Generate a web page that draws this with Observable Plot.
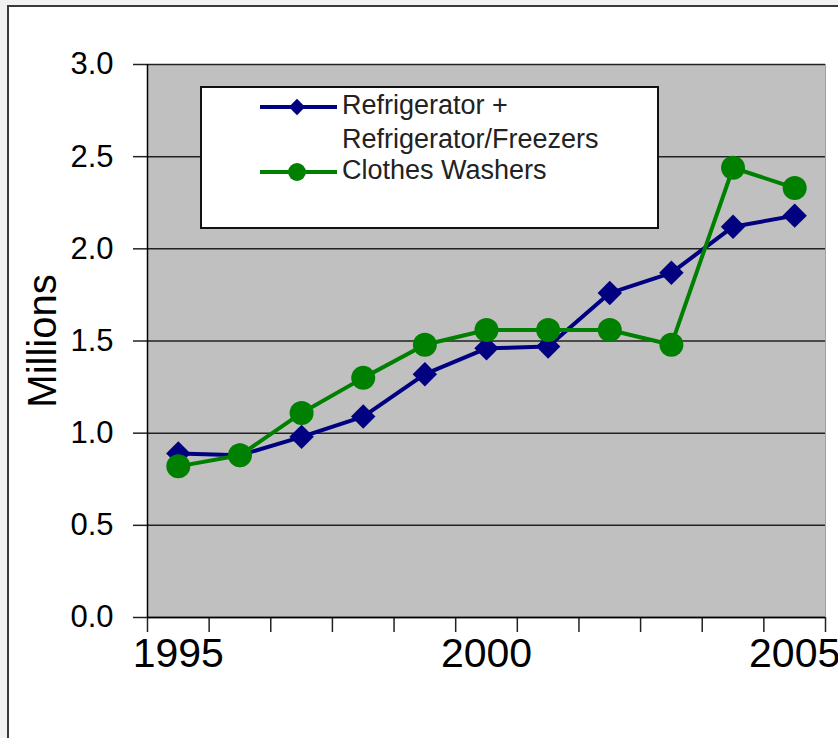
<!DOCTYPE html>
<html><head><meta charset="utf-8">
<script src="https://cdn.jsdelivr.net/npm/d3@7"></script>
<script src="https://cdn.jsdelivr.net/npm/@observablehq/plot@0.6"></script>
<style>
html,body{margin:0;padding:0;background:#f2f2f2;width:838px;height:738px;overflow:hidden;}
#frame{position:absolute;left:7px;top:5px;width:900px;height:900px;border:2px solid #3a3a3a;background:#fff;}
#chart{position:absolute;left:0;top:0;}
#legend{position:absolute;left:200px;top:86px;}
</style></head><body>
<div id="frame"></div><div id="chart"></div><div id="legend"></div>
<script>
const years = [1995, 1996, 1997, 1998, 1999, 2000, 2001, 2002, 2003, 2004, 2005];
const refrigerators = [0.89, 0.88, 0.98, 1.09, 1.32, 1.46, 1.47, 1.76, 1.87, 2.12, 2.18];
const washers = [0.82, 0.88, 1.11, 1.30, 1.48, 1.56, 1.56, 1.56, 1.48, 2.44, 2.33];
const seriesNames = ["Refrigerator +", "Clothes Washers"];
const seriesSubLabel = "Refrigerator/Freezers";
const seriesColors = ["#000080", "#008000"];
const yTicks = [0, 0.5, 1.0, 1.5, 2.0, 2.5, 3.0];
const xLabelTicks = [1995, 2000, 2005];
const xBoundaryTicks = years.map(y => y - 0.5).concat([years[years.length - 1] + 0.5]);

const fridge = years.map((year, i) => ({year, value: refrigerators[i]}));
const wash = years.map((year, i) => ({year, value: washers[i]}));
const font = "'Liberation Sans', Arial, sans-serif";

const chart = Plot.plot({
  width: 838, height: 738,
  marginLeft: 147, marginRight: 13, marginTop: 64, marginBottom: 121,
  style: {fontFamily: font, background: "transparent", color: "#000", overflow: "visible"},
  x: {domain: [xBoundaryTicks[0], xBoundaryTicks[xBoundaryTicks.length - 1]]},
  y: {domain: [0, 3]},
  marks: [
    Plot.frame({fill: "#c0c0c0", stroke: "#a0a0a0"}),
    Plot.gridY(yTicks, {stroke: "#222", strokeOpacity: 1, strokeWidth: 1.5}),
    Plot.axisY({ticks: yTicks, tickSize: 14, tickPadding: 20, tickFormat: d3.format(".1f"), fontSize: 31, label: null, stroke: "#222", strokeWidth: 1.5}),
    Plot.axisY({ticks: [], label: "Millions", labelAnchor: "center", labelArrow: "none", labelOffset: 120, fontSize: 40}),
    Plot.ruleX([xBoundaryTicks[0]], {stroke: "#000", strokeWidth: 1.5}),
    Plot.axisX({ticks: xBoundaryTicks, tickSize: 15, tickFormat: () => "", label: null, stroke: "#222", strokeWidth: 1.5}),
    Plot.axisX({ticks: xLabelTicks, tickSize: 0, tickPadding: 20, fontSize: 41, tickFormat: d => String(d), label: null}),
    Plot.ruleY([0], {stroke: "#000", strokeWidth: 1.5}),
    Plot.line(fridge, {x: "year", y: "value", stroke: seriesColors[0], strokeWidth: 4}),
    Plot.dot(fridge, {x: "year", y: "value", symbol: "diamond2", r: 11, fill: seriesColors[0]}),
    Plot.line(wash, {x: "year", y: "value", stroke: seriesColors[1], strokeWidth: 4}),
    Plot.dot(wash, {x: "year", y: "value", symbol: "circle", r: 12, fill: seriesColors[1]})
  ]
});
document.getElementById("chart").append(chart);

// Legend
const lg = d3.select("#legend").append("svg").attr("width", 462).attr("height", 146)
  .style("font-family", font);
lg.append("rect").attr("x", 1).attr("y", 1).attr("width", 457).attr("height", 141)
  .attr("fill", "#fff").attr("stroke", "#111").attr("stroke-width", 2);
const rows = [
  {name: seriesNames[0], sub: seriesSubLabel, color: seriesColors[0], sym: "diamond", y: 21},
  {name: seriesNames[1], sub: null, color: seriesColors[1], sym: "circle", y: 86}
];
rows.forEach(r => {
  lg.append("line").attr("x1", 60).attr("x2", 137).attr("y1", r.y).attr("y2", r.y)
    .attr("stroke", r.color).attr("stroke-width", 4);
  const s = r.sym === "diamond" ? d3.symbol(d3.symbolDiamond2, 170) : d3.symbol(d3.symbolCircle, 250);
  lg.append("path").attr("d", s()).attr("transform", `translate(97,${r.y})`).attr("fill", r.color);
  lg.append("text").attr("x", 142).attr("y", r.y - 2).attr("dy", "0.35em").attr("font-size", 27)
    .attr("fill", "#222").text(r.name);
  if (r.sub) lg.append("text").attr("x", 142).attr("y", r.y + 32).attr("dy", "0.35em").attr("font-size", 27)
    .attr("fill", "#222").text(r.sub);
});
</script>
</body></html>
